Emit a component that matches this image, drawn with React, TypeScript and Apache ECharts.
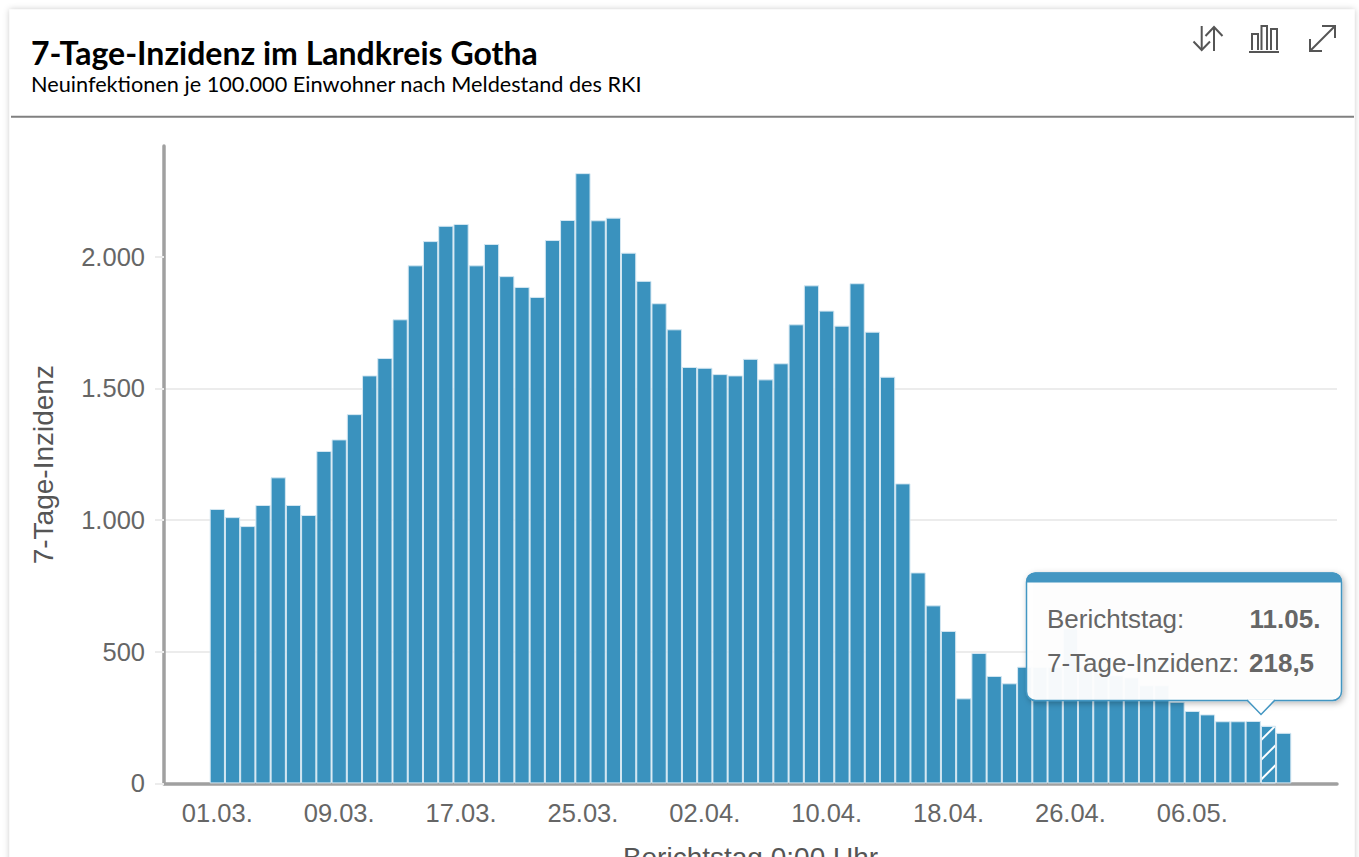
import React, { useEffect, useRef } from "react";
import * as echarts from "echarts";

const categories = [
  "01.03.", "02.03.", "03.03.", "04.03.", "05.03.", "06.03.", "07.03.", "08.03.", "09.03.", "10.03.",
  "11.03.", "12.03.", "13.03.", "14.03.", "15.03.", "16.03.", "17.03.", "18.03.", "19.03.", "20.03.",
  "21.03.", "22.03.", "23.03.", "24.03.", "25.03.", "26.03.", "27.03.", "28.03.", "29.03.", "30.03.",
  "31.03.", "01.04.", "02.04.", "03.04.", "04.04.", "05.04.", "06.04.", "07.04.", "08.04.", "09.04.",
  "10.04.", "11.04.", "12.04.", "13.04.", "14.04.", "15.04.", "16.04.", "17.04.", "18.04.", "19.04.",
  "20.04.", "21.04.", "22.04.", "23.04.", "24.04.", "25.04.", "26.04.", "27.04.", "28.04.", "29.04.",
  "30.04.", "03.05.", "04.05.", "05.05.", "06.05.", "07.05.", "08.05.", "09.05.", "10.05.", "11.05.",
  "12.05.",
];

const incidence = [
  1042, 1011, 977, 1057, 1162, 1057, 1019, 1262, 1306, 1402,
  1549, 1615, 1762, 1967, 2059, 2117, 2124, 1967, 2048, 1926,
  1885, 1847, 2063, 2139, 2317, 2138, 2148, 2015, 1908, 1823,
  1724, 1581, 1578, 1554, 1549, 1612, 1534, 1595, 1743, 1891,
  1795, 1738, 1899, 1715, 1544, 1139, 801, 676, 579, 323,
  495, 408, 380, 443, 443, 443, 590, 442, 442, 411,
  403, 373, 373, 310, 275, 262, 236, 236, 237, 218.5,
  192,
];

const yTicks = [0, 500, 1000, 1500, 2000];
const highlightedDay = "11.05.";
const tickEvery = 8;
const padSlots = 3;
const padding = Array.from({ length: padSlots }, () => "");
const axisCategories = [...padding, ...categories, ...padding];
const axisValues = [...padding.map(() => null), ...incidence, ...padding.map(() => null)];

const formatThousands = (v: number) => String(v).replace(/\B(?=(\d{3})+$)/g, ".");
const BLUE = "#3a92be";
const TOOLTIP_BLUE = "#4396c2";
const GREY = "#666666";
const NAME_GREY = "#555555";
const ICON = "#555555";
const AXIS_FONT = "Liberation Sans";

function iconLine(points: number[][]) {
  return {
    type: "polyline",
    z: 50,
    shape: { points },
    style: { stroke: ICON, lineWidth: 2, fill: "none" },
  };
}

export default function App() {
  const ref = useRef<HTMLDivElement>(null);
  useEffect(() => {
    const chart = echarts.init(ref.current!, undefined, { renderer: "svg" });
    chart.setOption({
      animation: false,
      backgroundColor: "#ffffff",
      title: {
        text: "7-Tage-Inzidenz im Landkreis Gotha",
        subtext: "Neuinfektionen je 100.000 Einwohner nach Meldestand des RKI",
        left: 31,
        top: 36,
        padding: 0,
        itemGap: 5,
        textStyle: { fontFamily: "Lato", fontWeight: 700, fontSize: 32, color: "#000000" },
        subtextStyle: { fontFamily: "Lato", fontWeight: 400, fontSize: 21.7, color: "#000000" },
      },
      grid: { left: 164, top: 146, width: 1173, height: 637.4, outerBoundsMode: "none" },
      xAxis: {
        type: "category",
        data: axisCategories,
        name: "Berichtstag 0:00 Uhr",
        nameLocation: "middle",
        nameGap: 60,
        nameTextStyle: { fontFamily: AXIS_FONT, fontSize: 28, color: NAME_GREY },
        axisLine: { lineStyle: { color: "#a0a0a0", width: 3.5 } },
        axisTick: { show: false },
        axisLabel: {
          fontFamily: AXIS_FONT,
          fontSize: 25.5,
          color: GREY,
          margin: 17,
          interval: (i: number) =>
            i >= padSlots && i < padSlots + categories.length - tickEvery + 2 && (i - padSlots) % tickEvery === 0,
        },
      },
      yAxis: {
        type: "value",
        min: 0,
        max: 2420,
        interval: 500,
        name: "7-Tage-Inzidenz",
        nameLocation: "middle",
        nameGap: 107,
        nameTextStyle: { fontFamily: AXIS_FONT, fontSize: 28, color: NAME_GREY },
        axisLine: { show: true, lineStyle: { color: "#a0a0a0", width: 3.5 } },
        axisTick: {
          show: true,
          length: 9,
          customValues: yTicks,
          lineStyle: { color: "#ececec", width: 2 },
        },
        axisLabel: {
          fontFamily: AXIS_FONT,
          fontSize: 25.5,
          color: GREY,
          margin: 19,
          showMaxLabel: false,
          formatter: (v: number) => formatThousands(v),
        },
        splitLine: { show: true, showMaxLine: false, lineStyle: { color: "#ececec", width: 2 } },
      },
      series: [
        {
          type: "bar",
          z: 2,
          barCategoryGap: "0%",
          data: axisValues.map((value, i) =>
            axisCategories[i] === highlightedDay
              ? {
                  value,
                  itemStyle: {
                    color: BLUE,
                    borderColor: "#d4e7f2",
                    borderWidth: 1,
                    decal: {
                      symbol: "rect",
                      symbolSize: 1,
                      dashArrayX: [1, 0],
                      dashArrayY: [2, 12],
                      rotation: -Math.PI / 4,
                      color: "#ffffff",
                    },
                  },
                }
              : value
          ),
          itemStyle: { color: BLUE, borderColor: "#d4e7f2", borderWidth: 1 },
        },
      ],
      graphic: [
        {
          type: "rect",
          z: -10,
          silent: true,
          shape: { x: 9.5, y: 9.5, width: 1345, height: 900 },
          style: { fill: "#fff", shadowBlur: 6, shadowColor: "rgba(0,0,0,0.22)" },
        },
        {
          type: "line",
          z: 50,
          shape: { x1: 11, y1: 116.7, x2: 1354, y2: 116.7 },
          style: { stroke: "#808080", lineWidth: 2 },
        },
        iconLine([[1201.7, 26], [1201.7, 50]]),
        iconLine([[1193.5, 41.5], [1201.7, 50], [1210, 41.5]]),
        iconLine([[1214, 27], [1214, 51]]),
        iconLine([[1205.5, 36], [1214, 27], [1222.5, 36]]),
        iconLine([[1249, 52], [1279, 52]]),
        iconLine([[1252, 50], [1252, 34], [1258, 34], [1258, 50]]),
        iconLine([[1261.5, 50], [1261.5, 26], [1267, 26], [1267, 50]]),
        iconLine([[1271, 50], [1271, 29], [1277, 29], [1277, 50]]),
        iconLine([[1310, 51], [1335, 26]]),
        iconLine([[1322, 26], [1335, 26], [1335, 38]]),
        iconLine([[1310, 39], [1310, 51], [1322, 51]]),
        {
          type: "rect",
          z: 60,
          shape: { x: 1026.5, y: 573, width: 315, height: 127.5, r: 9 },
          style: {
            fill: "rgba(255,255,255,0.95)",
            stroke: TOOLTIP_BLUE,
            lineWidth: 1.5,
            shadowBlur: 6,
            shadowOffsetX: 2,
            shadowOffsetY: 2,
            shadowColor: "rgba(0,0,0,0.3)",
          },
        },
        {
          type: "rect",
          z: 61,
          shape: { x: 1026, y: 572.5, width: 316, height: 10, r: [9, 9, 0, 0] },
          style: { fill: TOOLTIP_BLUE },
        },
        {
          type: "polygon",
          z: 61,
          shape: { points: [[1247, 699.5], [1261, 714.5], [1275, 699.5]] },
          style: { fill: "#ffffff" },
        },
        {
          type: "polyline",
          z: 62,
          shape: { points: [[1247, 700], [1261, 714.5], [1275, 700]] },
          style: { stroke: TOOLTIP_BLUE, lineWidth: 1.5, fill: "none" },
        },
        {
          type: "text",
          z: 63,
          x: 1047,
          y: 619,
          style: { text: "Berichtstag:", font: `26px "${AXIS_FONT}"`, fill: GREY, verticalAlign: "middle" },
        },
        {
          type: "text",
          z: 63,
          x: 1047,
          y: 663,
          style: { text: "7-Tage-Inzidenz:", font: `26px "${AXIS_FONT}"`, fill: GREY, verticalAlign: "middle" },
        },
        {
          type: "text",
          z: 63,
          x: 1249.5,
          y: 619,
          style: { text: highlightedDay, font: `bold 26px "${AXIS_FONT}"`, fill: GREY, verticalAlign: "middle" },
        },
        {
          type: "text",
          z: 63,
          x: 1249,
          y: 663,
          style: {
            text: String(incidence[categories.indexOf(highlightedDay)]).replace(".", ","),
            font: `bold 26px "${AXIS_FONT}"`,
            fill: GREY,
            verticalAlign: "middle",
          },
        },
      ],
    });
    return () => chart.dispose();
  }, []);
  return <div ref={ref} style={{ position: "fixed", left: 0, top: 0, width: 1359, height: 857 }} />;
}
